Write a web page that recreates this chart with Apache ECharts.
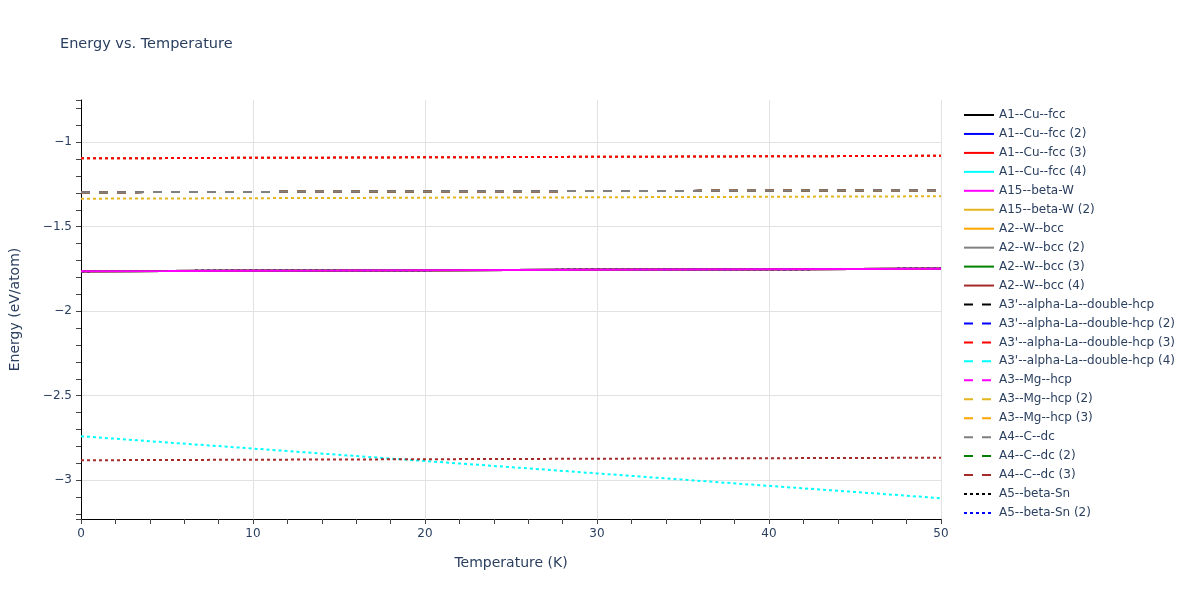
<!DOCTYPE html>
<html>
<head>
<meta charset="utf-8">
<script src="https://cdn.jsdelivr.net/npm/echarts@6/dist/echarts.min.js"></script>
<style>
  html, body { margin: 0; padding: 0; background: #fff; }
  #main { width: 1200px; height: 600px; }
</style>
</head>
<body>
<div id="main"></div>
<script>
// temperatures (K)
var temps = [0, 5, 10, 15, 20, 25, 30, 35, 40, 45, 50];

// energies (eV/atom)
var solidMagenta = [-1.763, -1.762, -1.760, -1.759, -1.757, -1.756, -1.755, -1.753, -1.752, -1.750, -1.749];
var dashedGray = [-1.296, -1.295, -1.294, -1.293, -1.291, -1.290, -1.289, -1.288, -1.287, -1.285, -1.284];
var dottedRed = [-1.095, -1.094, -1.092, -1.091, -1.089, -1.088, -1.086, -1.085, -1.083, -1.082, -1.080];
var dottedGold = [-1.334, -1.333, -1.331, -1.330, -1.328, -1.327, -1.326, -1.324, -1.323, -1.321, -1.320];
var dottedCyan = [-2.740, -2.777, -2.813, -2.850, -2.887, -2.923, -2.960, -2.997, -3.034, -3.070, -3.107];
var dottedBrown = [-2.882, -2.881, -2.879, -2.878, -2.876, -2.875, -2.873, -2.872, -2.870, -2.869, -2.867];

var colors = ["#000000", "#0000ff", "#ff0000", "#00ffff", "#ff00ff", "#e3b51f", "#ffa500", "#808080", "#008000", "#a52a2a"];

var solidNames = ["A1--Cu--fcc", "A1--Cu--fcc (2)", "A1--Cu--fcc (3)", "A1--Cu--fcc (4)", "A15--beta-W",
  "A15--beta-W (2)", "A2--W--bcc", "A2--W--bcc (2)", "A2--W--bcc (3)", "A2--W--bcc (4)"];
var dashedNames = ["A3'--alpha-La--double-hcp", "A3'--alpha-La--double-hcp (2)", "A3'--alpha-La--double-hcp (3)",
  "A3'--alpha-La--double-hcp (4)", "A3--Mg--hcp", "A3--Mg--hcp (2)", "A3--Mg--hcp (3)", "A4--C--dc",
  "A4--C--dc (2)", "A4--C--dc (3)"];
var dottedNames = ["A5--beta-Sn", "A5--beta-Sn (2)", "A5--beta-Sn (3)", "A5--beta-Sn (4)", "A5--beta-Sn (5)",
  "A5--beta-Sn (6)", "A5--beta-Sn (7)", "A5--beta-Sn (8)", "A5--beta-Sn (9)", "A5--beta-Sn (10)"];

var DASH = [9, 9], DOT = [3, 3];

function pts(vals) {
  return temps.map(function (t, i) { return [t, vals[i]]; });
}

function mk(name, color, dash, vals) {
  return {
    name: name, type: "line", data: pts(vals), showSymbol: false, symbol: "none",
    lineStyle: {color: color, width: 2, type: dash}, itemStyle: {color: color},
    silent: true, animation: false
  };
}

var underList = [], topList = [];
// solid lines all sit on the magenta curve, magenta drawn last
solidNames.forEach(function (n, i) {
  if (i !== 4) underList.push(mk(n, colors[i], "solid", solidMagenta));
});
// dotted lines
var dottedData = [solidMagenta, solidMagenta, dottedRed, dottedCyan, solidMagenta, dottedGold, dottedRed, dottedRed, solidMagenta, dottedBrown];
dottedNames.forEach(function (n, i) {
  if (i === 2 || i === 3 || i === 5 || i === 9) topList.push(mk(n, colors[i], DOT, dottedData[i]));
  else underList.push(mk(n, colors[i], DOT, dottedData[i]));
});
topList.push(mk(solidNames[4], colors[4], "solid", solidMagenta));
// dashed lines hide under the gray one
dashedNames.forEach(function (n, i) {
  if (i !== 7) underList.push(mk(n, colors[i], DASH, dashedGray));
});
topList.push(mk(dashedNames[7], colors[7], DASH, dashedGray));

var legendNames = solidNames.concat(dashedNames).concat(dottedNames.slice(0, 2));

var txt = "#2a3f5f", font = "'DejaVu Sans', Verdana, sans-serif";
var grid = "#e2e2e2";
var chart = echarts.init(document.getElementById("main"));
chart.setOption({
  backgroundColor: "#fff",
  animation: false,
  title: {
    text: "Energy vs. Temperature", left: 60, top: 37, padding: 0,
    textStyle: {color: txt, fontSize: 14.5, fontWeight: "normal", fontFamily: font}
  },
  legend: {
    orient: "vertical", left: 963, top: 108, padding: 0,
    itemWidth: 30, itemHeight: 14, itemGap: 4.95,
    data: legendNames,
    itemStyle: {color: "transparent", borderWidth: 0, opacity: 0},
    lineStyle: {width: 2},
    textStyle: {color: txt, fontSize: 12, lineHeight: 14, fontFamily: font}
  },
  grid: {left: 80, right: 259, top: 100, bottom: 81, containLabel: false},
  xAxis: {
    type: "value", min: 0, max: 50, interval: 10,
    name: "Temperature (K)", nameLocation: "middle", nameGap: 37,
    nameTextStyle: {color: txt, fontSize: 14, fontFamily: font},
    axisLine: {show: true, onZero: false, lineStyle: {color: "#000", width: 1}},
    axisTick: {show: true, length: 5, lineStyle: {color: "#444"}},
    minorTick: {show: true, splitNumber: 5, length: 5, lineStyle: {color: "#444"}},
    axisLabel: {color: txt, fontSize: 12, fontFamily: font, margin: 9},
    splitLine: {show: true, lineStyle: {color: grid, width: 1}}
  },
  yAxis: {
    type: "value", min: -3.23, max: -0.75, splitNumber: 5,
    name: "Energy (eV/atom)", nameLocation: "middle", nameGap: 59,
    nameTextStyle: {color: txt, fontSize: 14, fontFamily: font},
    axisLine: {show: true, onZero: false, lineStyle: {color: "#000", width: 1}},
    axisTick: {show: true, length: 5, lineStyle: {color: "#444"}},
    minorTick: {show: true, splitNumber: 5, length: 5, lineStyle: {color: "#444"}},
    axisLabel: {
      color: txt, fontSize: 12, fontFamily: font, margin: 9,
      showMinLabel: false, showMaxLabel: false,
      formatter: function (v) { return String(v).replace("-", "\u2212"); }
    },
    splitLine: {show: true, lineStyle: {color: ["rgba(0,0,0,0)", grid, grid, grid, grid, grid, "rgba(0,0,0,0)"], width: 1}}
  },
  series: underList.concat(topList)
});
</script>
</body>
</html>
